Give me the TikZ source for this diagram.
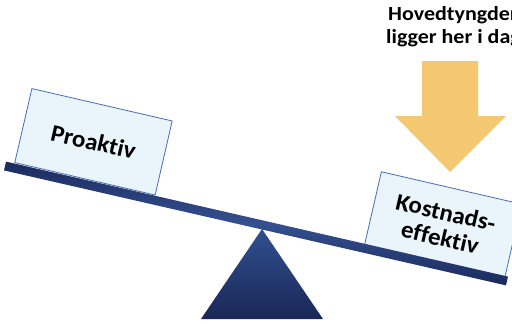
\documentclass[tikz,border=0pt]{standalone}
\usepackage{fontspec}
\setmainfont{Carlito}[Ligatures=NoCommon]
\newfontfamily\headfont{Carlito}[Ligatures=NoCommon, FakeStretch=1.10]
\newfontfamily\cardfont{Carlito}[Ligatures=NoCommon, FakeStretch=1.04]
\begin{document}
\begin{tikzpicture}[x=1pt,y=-1pt,
  card/.style={draw=boxline, line width=0.8pt, fill=boxfill, minimum width=144pt, minimum height=76pt,
    inner sep=0pt, rotate=-13, align=center, font=\cardfont\bfseries\fontsize{24}{26}\selectfont},
  headline/.style={anchor=base west, inner sep=0pt, font=\headfont\bfseries\fontsize{20}{22}\selectfont}]
\definecolor{boxfill}{HTML}{EAF4FB}
\definecolor{boxline}{HTML}{4A6CB3}
\definecolor{beamdark}{HTML}{1B2A5E}
\definecolor{beamlight}{HTML}{34508F}
\definecolor{trtop}{HTML}{30508F}
\definecolor{trbot}{HTML}{1A2756}
\definecolor{arrowcol}{HTML}{F4C870}
\useasboundingbox (0,0) rectangle (512,324);
\clip (0,0) rectangle (512,324);
% fulcrum
\coordinate (apex) at (262,229);
\coordinate (bl) at (201,319);
\coordinate (br) at (323,319);
\shade[top color=trtop, bottom color=trbot] (apex) -- (br) -- (bl) -- cycle;
% boxes
\node[card] (pro) at (93.5,141.8) {Proaktiv};
\node[card] (kost) at (443,225) {Kostnads-\\effektiv};
% beam
\node[rotate=-12.9, minimum width=515pt, minimum height=9pt, inner sep=0pt,
  top color=beamdark, bottom color=beamdark, middle color=beamlight] (beam) at (256,223.5) {};
% arrow
\fill[arrowcol] (422,61) -- (478,61) -- (478,116) -- (506,116) -- (450,172) -- (395,116) -- (422,116) -- cycle;
\node[headline] (t1) at (388,20.7) {Hovedtyngden};
\node[headline] (t2) at (386,43.3) {ligger her i dag};
\end{tikzpicture}
\end{document}
